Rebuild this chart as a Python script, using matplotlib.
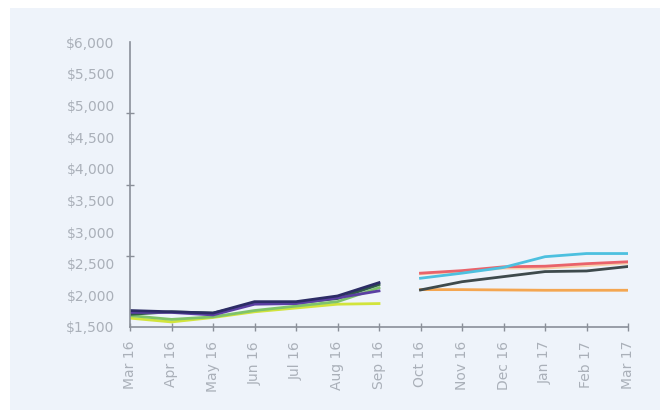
import matplotlib
matplotlib.use('Agg')
import matplotlib.pyplot as plt
import numpy as np
from matplotlib.ticker import FixedLocator

months = ['Mar 16', 'Apr 16', 'May 16', 'Jun 16', 'Jul 16', 'Aug 16', 'Sep 16',
          'Oct 16', 'Nov 16', 'Dec 16', 'Jan 17', 'Feb 17', 'Mar 17']

# first half (Mar 16 - Sep 16)
navy = [1760, 1740, 1720, 1900, 1900, 1990, 2200]
purple = [1730, 1730, 1690, 1860, 1870, 1960, 2070]
dark_green = [1700, 1740, 1720, 1870, 1880, 1950, 2170]
light_green = [1680, 1620, 1660, 1760, 1830, 1900, 2120]
yellow_green = [1640, 1580, 1650, 1740, 1800, 1860, 1870]

# second half (Oct 16 - Mar 17)
red = [2350, 2390, 2450, 2460, 2500, 2530]
blue = [2270, 2350, 2440, 2610, 2660, 2660]
gray = [2085, 2215, 2295, 2375, 2385, 2455]
orange = [2090, 2090, 2085, 2080, 2080, 2080]
peach = [2340, 2380, 2430, 2430, 2470, 2510]

bg = '#eef3fa'
txt = '#aab0b9'
fig = plt.figure(figsize=(6.69, 4.18), dpi=100)
fig.patch.set_facecolor('white')
fig.patches.append(plt.Rectangle((10/669, 8/418), 650/669, 402/418, transform=fig.transFigure,
                                 facecolor=bg, edgecolor='none', zorder=-10))
ax = fig.add_axes([130/669, 1-327/418, 498/669, 285/418])
ax.set_facecolor(bg)

x1 = np.arange(0, 7)
x2 = np.arange(7, 13)
lw = 2
ax.plot(x1, yellow_green, color='#d2e43c', lw=lw)
ax.plot(x1, light_green, color='#7fc36a', lw=lw)
ax.plot(x1, dark_green, color='#2f5a48', lw=lw)
ax.plot(x1, purple, color='#5b3fa3', lw=lw)
ax.plot(x1, navy, color='#2c2c66', lw=lw)

ax.plot(x2, orange, color='#f4a651', lw=lw)
ax.plot(x2, peach, color='#f7d0aa', lw=lw)
ax.plot(x2, gray, color='#3e4a4c', lw=lw)
ax.plot(x2, red, color='#e9636b', lw=lw)
ax.plot(x2, blue, color='#4dc0df', lw=lw)

ax.set_xlim(0, 12)
ax.set_ylim(1500, 6000)

ax.set_xticks(x1.tolist() + x2.tolist())
ax.set_xticklabels(months, rotation=90, color=txt, fontsize=10, family='DejaVu Sans')
ax.set_yticks(np.arange(1500, 6001, 500))
ax.set_yticklabels(['${:,}'.format(v) for v in range(1500, 6001, 500)],
                   color=txt, fontsize=10, family='DejaVu Sans')
ax.yaxis.set_minor_locator(FixedLocator(np.linspace(1500, 6000, 5)))
ax.tick_params(axis='y', which='major', length=0, pad=11)
ax.tick_params(axis='y', which='minor', length=6, direction='inout', color='#8a8f99', width=1)
ax.tick_params(axis='x', length=6, direction='inout', color='#8a8f99', width=1, pad=7)

for s in ['top', 'right']:
    ax.spines[s].set_visible(False)
for s in ['left', 'bottom']:
    ax.spines[s].set_color('#8a8f99')
    ax.spines[s].set_linewidth(1.2)

fig.savefig('out.png', dpi=100, facecolor=fig.get_facecolor())
